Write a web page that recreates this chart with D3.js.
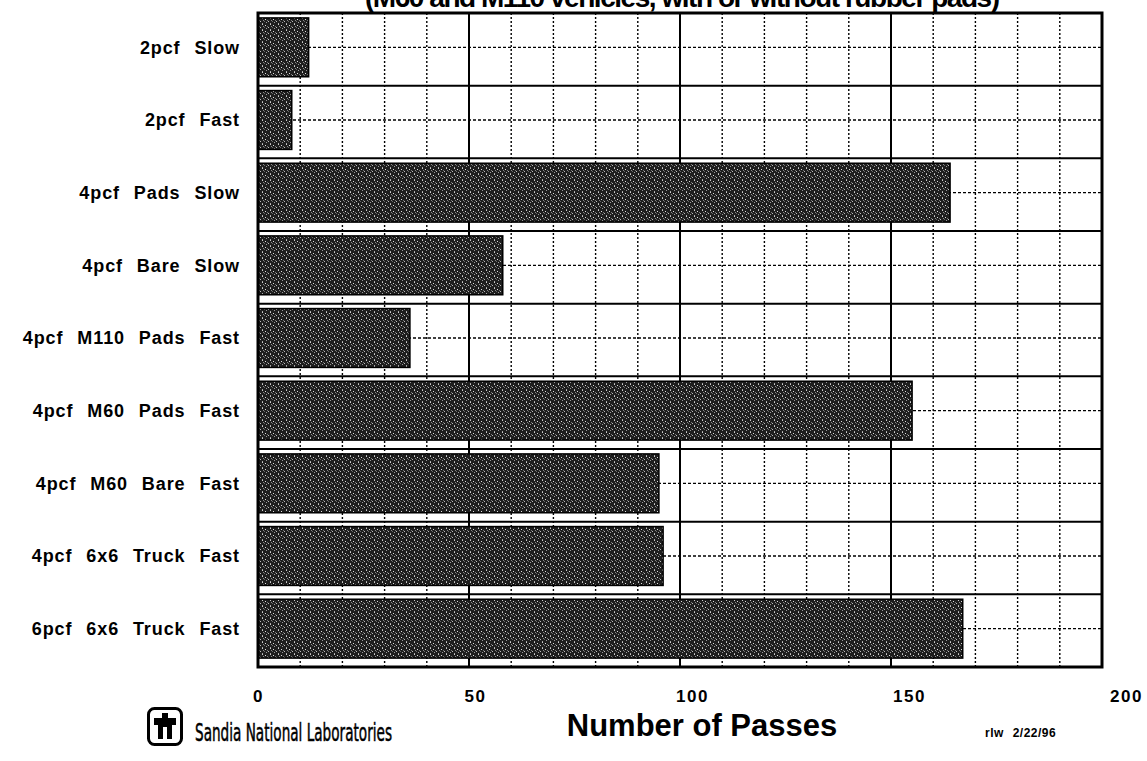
<!DOCTYPE html>
<html>
<head>
<meta charset="utf-8">
<script src="https://cdn.jsdelivr.net/npm/d3@7"></script>
<style>
  body { margin: 0; background: #fff; }
  svg text { font-family: "Liberation Sans", Arial, sans-serif; }
</style>
</head>
<body>
<div id="chart"></div>
<script>
// data
var categories = ['2pcf Slow', '2pcf Fast', '4pcf Pads Slow', '4pcf Bare Slow', '4pcf M110 Pads Fast',
                  '4pcf M60 Pads Fast', '4pcf M60 Bare Fast', '4pcf 6x6 Truck Fast', '6pcf 6x6 Truck Fast']
var passes = [12, 8, 164, 58, 36, 155, 95, 96, 167]
var tickLabels = [0, 50, 100, 150, 200]
var gridStep = 10

var chart_width = 1147, chart_height = 761
var plotLeft = 258, plotRight = 1102, plotTop = 13, plotBottom = 667

var svg = d3.select('#chart').append('svg')
    .attr('width', chart_width).attr('height', chart_height)

// halftone-ish fill for the bars
var defs = svg.append('defs')
var pat = defs.append('pattern').attr('id', 'halftone')
    .attr('patternUnits', 'userSpaceOnUse').attr('width', 8).attr('height', 6)
pat.append('rect').attr('width', 8).attr('height', 6).attr('fill', '#1e1e1e')
var dots = [[1,1,'#ddd'],[4,3,'#bbb'],[2,4,'#999'],[6,0,'#ccc'],[6,5,'#aaa'],[3,2,'#777'],[7,2,'#888'],[0,3,'#666']]
dots.forEach(function(p){
  pat.append('rect').attr('x', p[0]).attr('y', p[1]).attr('width', 1).attr('height', 1).attr('fill', p[2])
})

var x_scale = d3.scaleLinear().domain([0, 200]).range([plotLeft, plotRight])
// rows of the grid
var row_scale = d3.scaleBand().domain(categories).range([plotTop, plotBottom])
// bars sit a little high inside each row
var y_scale = d3.scaleBand().domain(categories).range([plotTop - 2, plotBottom - 2])
    .paddingInner(0.19).paddingOuter(0.095)

// clipped title at the very top
svg.append('text')
    .attr('x', 365).attr('y', 7)
    .attr('textLength', 635)
    .style('font-size', '28px').style('font-weight', 'bold')
    .text('(M60 and M110 vehicles, with or without rubber pads)')

// vertical grid
var vticks = d3.range(0, 201, gridStep)
svg.append('g').selectAll('line').data(vticks).enter().append('line')
    .attr('x1', function(d){ return x_scale(d) }).attr('x2', function(d){ return x_scale(d) })
    .attr('y1', plotTop).attr('y2', plotBottom)
    .attr('stroke', '#000')
    .attr('stroke-width', function(d){ return d % 50 == 0 ? 2 : 1.4 })
    .attr('stroke-dasharray', function(d){ return d % 50 == 0 ? null : '2,2' })

// horizontal: solid row separators, dotted centre lines
svg.append('g').selectAll('line').data(categories.slice(1)).enter().append('line')
    .attr('x1', plotLeft).attr('x2', plotRight)
    .attr('y1', function(d){ return row_scale(d) }).attr('y2', function(d){ return row_scale(d) })
    .attr('stroke', '#000').attr('stroke-width', 2)
svg.append('g').selectAll('line').data(categories).enter().append('line')
    .attr('x1', plotLeft).attr('x2', plotRight)
    .attr('y1', function(d){ return y_scale(d) + y_scale.bandwidth() / 2 })
    .attr('y2', function(d){ return y_scale(d) + y_scale.bandwidth() / 2 })
    .attr('stroke', '#000').attr('stroke-width', 1.4).attr('stroke-dasharray', '3,2')

// bars
svg.append('g').selectAll('rect').data(categories).enter().append('rect')
    .attr('x', x_scale(0))
    .attr('y', function(d){ return y_scale(d) })
    .attr('width', function(d, i){ return x_scale(passes[i]) - x_scale(0) })
    .attr('height', y_scale.bandwidth())
    .attr('fill', 'url(#halftone)')
    .attr('stroke', '#000').attr('stroke-width', 1.5)

// frame
svg.append('rect')
    .attr('x', plotLeft).attr('y', plotTop)
    .attr('width', plotRight - plotLeft).attr('height', plotBottom - plotTop)
    .attr('fill', 'none').attr('stroke', '#000').attr('stroke-width', 3)

// category labels
svg.append('g').selectAll('text').data(categories).enter().append('text')
    .attr('x', 240)
    .attr('y', function(d){ return row_scale(d) + row_scale.bandwidth() / 2 - 2 })
    .attr('dy', '0.35em')
    .attr('text-anchor', 'end')
    .style('font-size', '18px').style('font-weight', 'bold')
    .style('letter-spacing', '0.9px').style('word-spacing', '8px')
    .text(function(d){ return d })

// x axis labels (scan drifts them a little right)
var xAxis = svg.append('g').attr('transform', 'translate(0,' + 690 + ')')
    .call(d3.axisBottom(x_scale).tickValues(tickLabels).tickSize(0).tickPadding(0))
xAxis.select('.domain').remove()
xAxis.selectAll('text')
    .attr('dx', function(d){ return d * 0.12 })
    .style('font-family', '"Liberation Sans", Arial, sans-serif')
    .style('font-size', '17px').style('font-weight', 'bold').style('fill', '#000')
    .style('letter-spacing', '1.5px')

svg.append('text')
    .attr('x', 702).attr('y', 736).attr('text-anchor', 'middle')
    .style('font-size', '31px').style('font-weight', 'bold')
    .text('Number of Passes')

svg.append('text')
    .attr('x', 985).attr('y', 737)
    .style('font-size', '12px').style('font-weight', 'bold').style('word-spacing', '5px')
    .style('letter-spacing', '0.5px')
    .text('rlw 2/22/96')

// Sandia logo
var logo = svg.append('g').attr('transform', 'translate(147,707)')
logo.append('rect').attr('x', 1.5).attr('y', 1.5).attr('width', 33).attr('height', 36)
    .attr('rx', 6).attr('fill', 'none').attr('stroke', '#000').attr('stroke-width', 3)
logo.append('path')
    .attr('d', 'M15,6 h6 v5 h8 v7 h-4 v14 h-5 v-12 h-4 v12 h-5 v-14 h-4 v-7 h8 z')
    .attr('fill', '#000')
svg.append('text')
    .attr('x', 195).attr('y', 741)
    .attr('textLength', 197).attr('lengthAdjust', 'spacingAndGlyphs')
    .style('font-family', '"DejaVu Sans Condensed", "Liberation Sans Narrow", sans-serif')
    .style('font-size', '24px')
    .style('stroke', '#000').style('stroke-width', '0.5px')
    .text('Sandia National Laboratories')
</script>
</body>
</html>
